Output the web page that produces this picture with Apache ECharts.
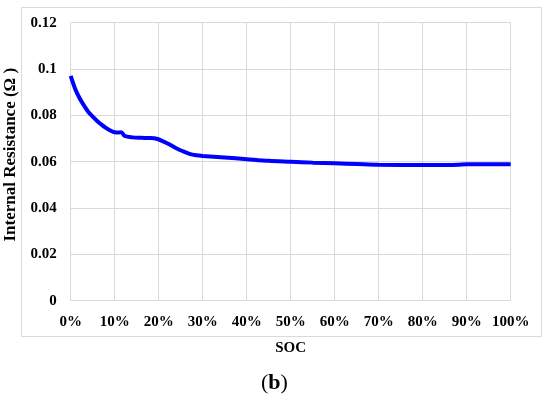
<!DOCTYPE html>
<html>
<head>
<meta charset="utf-8">
<script src="https://cdn.jsdelivr.net/npm/echarts@6/dist/echarts.min.js"></script>
<style>html,body{margin:0;padding:0;background:#fff;}#c{width:550px;height:402px;}</style>
</head>
<body>
<div id="c"></div>
<script>
const soc = [0,1,2,3,4,5,6,7,8,9,10,11,11.5,12.3,14,16,18,19.5,21,22.5,24,25.5,27,28.5,30,35,40,45,50,55,60,65,70,80,86,88,90,95,100];
const resistance = [0.097,0.0915,0.0875,0.0843,0.0815,0.0795,0.0776,0.0760,0.0746,0.0735,0.0727,0.0726,0.0727,0.0711,0.0705,0.0703,0.0702,0.0699,0.0688,0.0674,0.0658,0.0645,0.0634,0.0628,0.0625,0.0618,0.0611,0.0604,0.0600,0.0596,0.0593,0.0590,0.0587,0.0586,0.0586,0.0587,0.0589,0.0589,0.0589];
const xTitle = 'SOC';
const yTitle = 'Internal Resistance (Ω )';

const font = '"Liberation Serif", "Times New Roman", serif';
const chart = echarts.init(document.getElementById('c'), null, {renderer: 'canvas'});
chart.setOption({
  animation: false,
  backgroundColor: '#fff',
  grid: {left: 70.7, right: 39.3, top: 22.7, bottom: 101.3, containLabel: false, outerBoundsMode: 'none'},
  graphic: [
    {type: 'rect', shape: {x: 21.5, y: 7.5, width: 520, height: 329}, style: {fill: 'none', stroke: '#d9d9d9', lineWidth: 1}, z: -1},
    {type: 'text', left: 261, top: 372, style: {text: '({b|b})', font: '22px ' + font, fill: '#000', rich: {b: {fontWeight: 'bold', fontSize: 22, fontFamily: font}}}}
  ],
  xAxis: {
    type: 'value', min: 0, max: 100, interval: 10,
    name: xTitle, nameLocation: 'middle', nameGap: 40,
    nameTextStyle: {fontFamily: font, fontWeight: 'bold', fontSize: 15, color: '#000'},
    axisLine: {show: false}, axisTick: {show: false},
    axisLabel: {formatter: '{value}%', fontFamily: font, fontWeight: 'bold', fontSize: 15, color: '#000', margin: 14},
    splitLine: {show: true, lineStyle: {color: '#d9d9d9', width: 1}}
  },
  yAxis: {
    type: 'value', min: 0, max: 0.12, interval: 0.02,
    name: yTitle, nameLocation: 'middle', nameGap: 49,
    nameTextStyle: {fontFamily: font, fontWeight: 'bold', fontSize: 17, color: '#000', padding: [0, 0, 0, 14]},
    axisLine: {show: false}, axisTick: {show: false},
    axisLabel: {formatter: v => String(+v.toFixed(2)), fontFamily: font, fontWeight: 'bold', fontSize: 15, color: '#000', margin: 14},
    splitLine: {show: true, lineStyle: {color: '#d9d9d9', width: 1}}
  },
  series: [{
    type: 'line', data: soc.map((s, i) => [s, resistance[i]]),
    showSymbol: false, smooth: 0.3,
    lineStyle: {color: '#0000ff', width: 4}, itemStyle: {color: '#0000ff'}
  }]
});
</script>
</body>
</html>
